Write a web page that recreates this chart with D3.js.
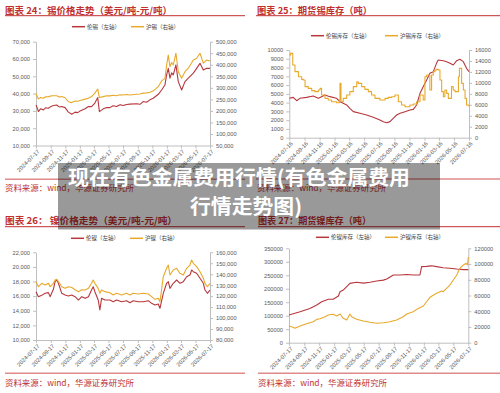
<!DOCTYPE html>
<html>
<head>
<meta charset="utf-8">
<script src="https://cdn.jsdelivr.net/npm/d3@7"></script>
<style>
	body { margin: 0; background: #fff; }
	svg { display: block; }
	.axis text { font-family: "Liberation Sans", Arial, sans-serif; font-size: 5.7px; fill: #595959; }
	.axis path, .axis line { stroke: #bfbfbf; }
	.title { font-family: "Noto Sans CJK SC", sans-serif; font-size: 9.5px; font-weight: bold; fill: #c0302f; }
	.legend { font-family: "Noto Sans CJK SC", sans-serif; font-size: 5.5px; fill: #404040; }
	.source { font-family: "Noto Sans CJK SC", sans-serif; font-size: 8.5px; fill: #c0302f; }
	.overlay { font-family: "Noto Sans CJK SC", sans-serif; font-size: 20px; font-weight: bold; fill: #fff; }
</style>
</head>
<body>
<div id="chart"></div>
<script>
// ---- data ----
const xTicks17 = ["2024-07-17","2024-09-17","2024-11-17","2025-01-17","2025-03-17","2025-05-17","2025-07-17",
	"2025-09-17","2025-11-17","2026-01-17","2026-03-17","2026-05-17","2026-07-17"];
const xTicks16 = ["2024-07-16","2024-09-16","2024-11-16","2025-01-16","2025-03-16","2025-05-16","2025-07-16",
	"2025-09-16","2025-11-16","2026-01-16","2026-03-16","2026-05-16","2026-07-16"];

// Fig 24: tin price
const tinTitle = "图表 24：锡价格走势（美元/吨-元/吨）";
const tinNames = ["伦锡（左轴）", "沪锡（右轴）"];
const tinLeftTicks = [10000, 20000, 30000, 40000, 50000, 60000, 70000];
const tinRightTicks = [50000, 100000, 150000, 200000, 250000, 300000, 350000, 400000, 450000, 500000];
const tinDates = ["2024-07-17","2024-07-24","2024-07-27","2024-08-05","2024-08-17","2024-08-26","2024-09-07","2024-09-18",
	"2024-09-28","2024-10-12","2024-10-22","2024-11-02","2024-11-16","2024-11-30","2024-12-14","2024-12-28","2025-01-08",
	"2025-01-18","2025-02-08","2025-02-22","2025-03-07","2025-03-21","2025-04-02","2025-04-09","2025-04-25","2025-05-10",
	"2025-05-23","2025-06-05","2025-06-20","2025-07-05","2025-07-18","2025-08-01","2025-08-15","2025-09-12","2025-09-26",
	"2025-10-10","2025-10-24","2025-11-07","2025-11-21","2025-12-12","2025-12-26","2026-01-09","2026-01-16","2026-01-23",
	"2026-01-30","2026-02-06","2026-02-13","2026-02-24","2026-03-06","2026-03-20","2026-04-03","2026-04-17","2026-05-08",
	"2026-05-22","2026-06-05","2026-06-19","2026-07-03","2026-07-17"];
const lmeTin = [33500,31000,29600,31200,30600,31800,31500,32600,33100,33400,32300,32500,31900,29300,28100,29300,29000,
	30000,31200,32500,32500,34500,37700,29600,31200,32000,31900,33000,32500,33600,33100,33700,33900,34100,33800,35400,
	35000,36400,37300,39600,42100,45000,50800,54600,48900,52000,50800,56600,46900,42100,46900,48900,51800,54600,57500,
	53700,54600,54600];
const shfeTin = [276000,258000,252000,258000,255000,261000,262000,265000,266000,266000,260000,262000,257000,240000,
	236000,243000,242000,245000,251000,255000,262000,277000,295000,258000,262000,266000,265000,268000,266000,270000,
	269000,271000,269000,272000,273000,277000,278000,281000,287000,305000,330000,341000,399000,442000,392000,410000,
	399000,450000,370000,342000,370000,385000,421000,428000,450000,407000,421000,416000];

// Fig 25: tin futures stocks
const tinStockTitle = "图表 25：期货锡库存（吨）";
const tinStockNames = ["伦锡库存（左轴）", "沪锡库存（右轴）"];
const tinStockLeftTicks = [0,1000,2000,3000,4000,5000,6000,7000,8000,9000,10000];
const tinStockRightTicks = [0,2000,4000,6000,8000,10000,12000,14000,16000];
const lmeTinStockDates = ["2024-07-16","2024-08-01","2024-08-15","2024-08-28","2024-09-24","2024-10-21","2024-11-11",
	"2024-11-24","2024-12-08","2024-12-28","2025-01-24","2025-02-07","2025-02-20","2025-03-06","2025-03-19","2025-04-02",
	"2025-04-29","2025-05-26","2025-06-22","2025-07-19","2025-08-02","2025-08-15","2025-08-29","2025-09-11","2025-09-25",
	"2025-10-09","2025-10-29","2025-11-18","2025-12-02","2025-12-15","2025-12-29","2026-01-11","2026-01-25","2026-02-07",
	"2026-02-21","2026-03-06","2026-03-13","2026-04-03","2026-04-16","2026-04-30","2026-05-13","2026-05-27","2026-06-09",
	"2026-06-23","2026-07-06","2026-07-16"];
const lmeTinStock = [4490,4600,4220,4490,4600,4750,4490,4680,4870,4680,4490,4100,3920,3730,3350,2970,2780,2590,2320,
	2020,1830,1710,1830,2210,2590,2780,2970,3160,3230,3730,5060,5820,6580,7340,7530,8480,8860,8780,8670,8480,8290,8780,
	8940,8670,7910,7530];
const shfeTinStockDates = ["2024-07-16","2024-07-21","2024-07-30","2024-08-08","2024-08-22","2024-09-04","2024-09-11",
	"2024-09-18","2024-10-01","2024-10-15","2024-10-28","2024-11-11","2024-11-18","2024-11-24","2024-12-08","2024-12-21",
	"2025-01-04","2025-01-24","2025-02-04","2025-02-07","2025-02-11","2025-02-20","2025-03-06","2025-03-19","2025-04-02",
	"2025-04-16","2025-04-22","2025-05-06","2025-05-19","2025-06-02","2025-06-15","2025-06-29","2025-07-19","2025-08-09",
	"2025-08-22","2025-09-05","2025-09-18","2025-10-02","2025-10-15","2025-10-29","2025-11-18","2025-12-02","2025-12-15",
	"2025-12-29","2026-01-05","2026-01-11","2026-01-18","2026-01-25","2026-02-07","2026-02-14","2026-02-21","2026-02-28",
	"2026-03-06","2026-03-13","2026-03-20","2026-03-27","2026-04-03","2026-04-09","2026-04-16","2026-04-23","2026-04-30",
	"2026-05-06","2026-05-13","2026-05-20","2026-05-27","2026-06-03","2026-06-07","2026-06-16","2026-06-23","2026-06-30",
	"2026-07-06","2026-07-16"];
const shfeTinStock = [15090,15390,13260,12050,11130,10650,10520,9310,9000,8580,8400,8700,9000,7790,7180,6870,6570,6390,
	6870,9920,6570,7180,7790,8400,9310,10220,9920,9310,8820,8400,7790,7180,6870,7180,7360,7480,7790,6570,5960,5660,5960,
	6140,6570,7790,7790,6870,11130,11440,8700,11440,12050,12350,12470,12350,10520,8400,7480,8700,8090,7180,7180,9310,
	8700,8400,8400,11130,12650,9920,8700,7180,5960,5660];

// Fig 26: nickel price
const niTitle = "图表 26：  镍价格走势（美元/吨-元/吨）";
const niNames = ["伦镍（左轴）", "沪镍（右轴）"];
const niLeftTicks = [10000, 12000, 14000, 16000, 18000, 20000, 22000];
const niRightTicks = [80000, 90000, 100000, 110000, 120000, 130000, 140000, 150000, 160000];
const niDates = ["2024-07-17","2024-07-27","2024-08-10","2024-08-24","2024-09-07","2024-09-14","2024-09-28","2024-10-05",
	"2024-10-12","2024-10-19","2024-11-02","2024-11-16","2024-11-30","2024-12-14","2024-12-28","2025-01-11","2025-01-25",
	"2025-02-08","2025-02-22","2025-03-07","2025-03-14","2025-03-21","2025-04-04","2025-04-11","2025-04-18","2025-05-02",
	"2025-05-23","2025-06-06","2025-06-20","2025-07-11","2025-08-01","2025-08-15","2025-08-29","2025-09-19","2025-10-10",
	"2025-10-31","2025-11-14","2025-11-28","2025-12-12","2025-12-19","2026-01-02","2026-01-16","2026-01-23","2026-01-30",
	"2026-02-13","2026-02-27","2026-03-13","2026-03-27","2026-04-10","2026-04-24","2026-05-01","2026-05-08","2026-05-22",
	"2026-06-05","2026-06-19","2026-06-26","2026-07-06","2026-07-17"];
const lmeNi = [16610,15930,16110,16390,16480,15930,16940,17980,18210,17760,16390,16160,16020,16160,15930,15470,15930,
	15700,15930,16840,17290,16610,15470,14110,15700,15470,15470,15240,15470,15240,15380,15110,15380,15240,15240,15380,
	15020,14790,14930,14340,16390,17760,17980,17070,17760,18210,17760,17980,18660,18890,19580,19350,19130,18440,17760,
	16840,16390,16840];
const shfeNi = [133200,128600,131700,130200,131700,128600,131700,134700,135400,133200,128600,127100,128600,127900,125900,
	124100,125900,125600,127100,131700,134700,131700,127100,122600,125600,124100,123100,121000,122600,121000,122600,
	121000,122600,122000,122600,122000,119500,117100,118000,114900,137700,145400,148400,139300,143900,145400,140800,
	139300,145400,148400,153000,150000,146900,142300,136300,131700,128600,131700];

// Fig 27: nickel futures stocks
const niStockTitle = "图表 27：期货镍库存（吨）";
const niStockNames = ["伦镍库存（左轴）", "沪镍库存（右轴）"];
const niStockLeftTicks = [0,50000,100000,150000,200000,250000,300000,350000];
const niStockRightTicks = [0,20000,40000,60000,80000,100000,120000];
const lmeNiStockDates = ["2024-07-17","2024-08-31","2024-10-10","2024-11-07","2024-11-27","2024-12-24","2025-01-13",
	"2025-02-03","2025-02-10","2025-02-23","2025-03-22","2025-04-18","2025-05-16","2025-06-12","2025-07-09","2025-08-05",
	"2025-08-19","2025-09-15","2025-10-12","2025-11-08","2025-12-05","2026-01-01","2026-01-08","2026-01-28","2026-02-18",
	"2026-03-10","2026-04-06","2026-05-03","2026-05-31","2026-06-27","2026-07-17"];
const lmeNiStock = [102700,115000,127000,140000,152000,161000,161000,173000,189000,195000,220000,224000,221000,224000,
	229000,232000,236000,251000,251000,253000,251000,251000,282000,283000,285000,282000,278000,276000,273000,271000,271000];
const shfeNiStockDates = ["2024-07-17","2024-07-28","2024-08-10","2024-08-31","2024-09-20","2024-10-10","2024-10-24",
	"2024-11-07","2024-11-20","2024-12-11","2024-12-24","2025-01-13","2025-01-27","2025-02-10","2025-02-23","2025-03-09",
	"2025-03-22","2025-03-29","2025-04-18","2025-05-16","2025-06-12","2025-07-09","2025-08-05","2025-09-01","2025-09-28",
	"2025-10-25","2025-11-08","2025-12-05","2025-12-19","2026-01-15","2026-01-28","2026-02-11","2026-03-10","2026-03-31",
	"2026-04-06","2026-05-03","2026-05-17","2026-05-31","2026-06-13","2026-06-27","2026-07-08","2026-07-14","2026-07-17"];
const shfeNiStock = [21200,20300,18300,21200,23400,25400,26700,29700,30400,33000,35200,36100,34000,36500,31000,28900,
	36500,33000,29700,27600,25900,24700,25300,26700,28900,33000,36500,39400,42400,46600,52100,57700,62800,65700,64800,
	73300,79700,86000,94500,98800,100900,98800,109000];

const sourceText = "资料来源：wind，华源证券研究所";
const overlayLines = ["现在有色金属费用行情(有色金属费用", "行情走势图)"];

// ---- drawing ----
const RED = "#b7373c", ORANGE = "#e8a92b", TITLE = "#c0302f";
const parse = d3.timeParse("%Y-%m-%d");
const fmtDate = d3.timeFormat("%Y-%m-%d");

const svg = d3.select("#chart").append("svg").attr("width", 500).attr("height", 393);

function drawPanel(p) {
	const g = svg.append("g");

	// title and rules
	g.append("text").attr("class", "title")
		.attr("x", p.titleX).attr("y", p.titleY)
		.attr("textLength", p.titleW).attr("lengthAdjust", "spacingAndGlyphs")
		.text(p.title);
	g.append("line")
		.attr("x1", p.ruleX[0]).attr("x2", p.ruleX[1])
		.attr("y1", p.titleRuleY).attr("y2", p.titleRuleY)
		.attr("stroke", TITLE).attr("stroke-width", 1);
	g.append("line")
		.attr("x1", p.ruleX[0]).attr("x2", p.ruleX[1])
		.attr("y1", p.sourceRuleY).attr("y2", p.sourceRuleY)
		.attr("stroke", "#e08a8a").attr("stroke-width", 1.6);
	g.append("text").attr("class", "source")
		.attr("x", p.titleX).attr("y", p.sourceY)
		.attr("textLength", 129).attr("lengthAdjust", "spacingAndGlyphs")
		.text(sourceText);

	// scales
	const x = d3.scaleTime([parse(p.xTicks[0]), parse(p.xTicks[p.xTicks.length - 1])], [p.left, p.right]);
	const yL = d3.scaleLinear(d3.extent(p.leftTicks), [p.bottom, p.top]);
	const yR = d3.scaleLinear(d3.extent(p.rightTicks), [p.bottom, p.top]);

	// axes
	const axX = g.append("g").attr("class", "axis")
		.attr("transform", `translate(0, ${p.bottom})`)
		.call(d3.axisBottom(x).tickValues(p.xTicks.map(parse)).tickFormat(fmtDate).tickSize(3).tickSizeOuter(0));
	axX.selectAll("text")
		.attr("x", 0).attr("y", 0).attr("dy", "0.35em")
		.attr("transform", "translate(2, 5) rotate(-45)")
		.style("text-anchor", "end");

	g.append("g").attr("class", "axis")
		.attr("transform", `translate(${p.left}, 0)`)
		.call(d3.axisLeft(yL).tickValues(p.leftTicks).tickFormat(p.leftFmt).tickSize(3).tickSizeOuter(0));
	g.append("g").attr("class", "axis")
		.attr("transform", `translate(${p.right}, 0)`)
		.call(d3.axisRight(yR).tickValues(p.rightTicks).tickFormat(p.rightFmt).tickSize(3).tickSizeOuter(0));

	// lines (left series red, right series orange)
	p.series.forEach((s) => {
		const y = s.right ? yR : yL;
		const line = d3.line()
			.x((d) => x(d[0])).y((d) => y(d[1]))
			.curve(s.curve || d3.curveLinear);
		g.append("path")
			.datum(s.dates.map((d, i) => [parse(d), s.values[i]]))
			.attr("fill", "none").attr("stroke", s.color)
			.attr("stroke-width", 1.1).attr("stroke-linejoin", "round")
			.attr("d", line);
	});

	// legend
	p.series.forEach((s, i) => {
		const lx = p.legendX[i];
		g.append("line")
			.attr("x1", lx).attr("x2", lx + 13)
			.attr("y1", p.legendY).attr("y2", p.legendY)
			.attr("stroke", s.color).attr("stroke-width", 1.5);
		g.append("text").attr("class", "legend")
			.attr("x", lx + 15).attr("y", p.legendY + 2)
			.text(p.names[i]);
	});
}

const comma = d3.format(","), plain = d3.format("d");

drawPanel({
	title: tinTitle, names: tinNames, titleX: 5, titleY: 13.5, titleW: 167,
	ruleX: [5, 245], titleRuleY: 15.7, sourceRuleY: 179.3, sourceY: 191,
	left: 36, right: 210, top: 41.7, bottom: 145.5,
	xTicks: xTicks17, leftTicks: tinLeftTicks, rightTicks: tinRightTicks, leftFmt: comma, rightFmt: comma,
	legendY: 26.7, legendX: [72, 131],
	series: [
		{ dates: tinDates, values: lmeTin, color: RED },
		{ dates: tinDates, values: shfeTin, color: ORANGE, right: true }
	]
});

drawPanel({
	title: tinStockTitle, names: tinStockNames, titleX: 257, titleY: 13.5, titleW: 115,
	ruleX: [256, 500], titleRuleY: 15.7, sourceRuleY: 179, sourceY: 191,
	left: 289.3, right: 469, top: 50, bottom: 137.7,
	xTicks: xTicks16, leftTicks: tinStockLeftTicks, rightTicks: tinStockRightTicks, leftFmt: plain, rightFmt: plain,
	legendY: 35.7, legendX: [311, 385],
	series: [
		{ dates: lmeTinStockDates, values: lmeTinStock, color: RED },
		{ dates: shfeTinStockDates, values: shfeTinStock, color: ORANGE, right: true, curve: d3.curveStepAfter }
	]
});

drawPanel({
	title: niTitle, names: niNames, titleX: 5, titleY: 223.5, titleW: 172,
	ruleX: [5, 245], titleRuleY: 226.7, sourceRuleY: 373.3, sourceY: 386,
	left: 36, right: 210, top: 252.3, bottom: 340,
	xTicks: xTicks17, leftTicks: niLeftTicks, rightTicks: niRightTicks, leftFmt: comma, rightFmt: comma,
	legendY: 238.3, legendX: [71, 130],
	series: [
		{ dates: niDates, values: lmeNi, color: RED },
		{ dates: niDates, values: shfeNi, color: ORANGE, right: true }
	]
});

drawPanel({
	title: niStockTitle, names: niStockNames, titleX: 258, titleY: 223.5, titleW: 113,
	ruleX: [258, 500], titleRuleY: 226.7, sourceRuleY: 373.3, sourceY: 386,
	left: 289, right: 468.3, top: 248.3, bottom: 342.7,
	xTicks: xTicks17, leftTicks: niStockLeftTicks, rightTicks: niStockRightTicks, leftFmt: plain, rightFmt: plain,
	legendY: 237.3, legendX: [316, 385],
	series: [
		{ dates: lmeNiStockDates, values: lmeNiStock, color: RED },
		{ dates: shfeNiStockDates, values: shfeNiStock, color: ORANGE, right: true }
	]
});

// grey caption band laid over the middle of the page
const band = svg.append("g");
band.append("rect")
	.attr("x", 58).attr("y", 163).attr("width", 382).attr("height", 66.5)
	.attr("fill", "#000").attr("fill-opacity", 0.4);
band.append("text").attr("class", "overlay")
	.attr("x", 68).attr("y", 185)
	.attr("textLength", 342).attr("lengthAdjust", "spacingAndGlyphs")
	.text(overlayLines[0]);
band.append("text").attr("class", "overlay")
	.attr("x", 190).attr("y", 213.5)
	.attr("textLength", 112).attr("lengthAdjust", "spacingAndGlyphs")
	.text(overlayLines[1]);
</script>
</body>
</html>
